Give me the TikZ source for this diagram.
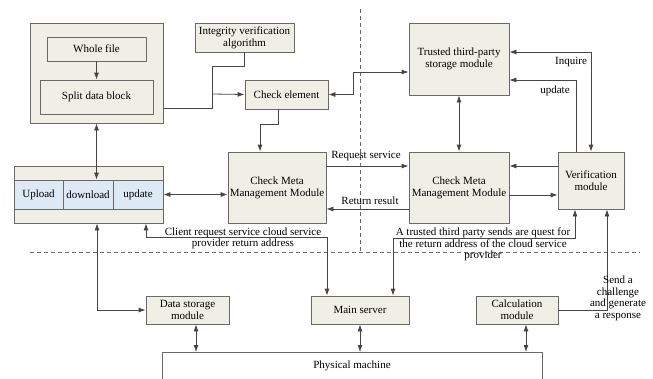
\documentclass[tikz,border=0pt]{standalone}
\usepackage{fontspec}
\setmainfont{Liberation Serif}
\usetikzlibrary{arrows.meta}
\definecolor{boxfill}{RGB}{240,239,230}
\definecolor{cellfill}{RGB}{221,233,245}
\definecolor{boxline}{RGB}{105,105,105}
\definecolor{wire}{RGB}{70,70,70}
\begin{document}
\begin{tikzpicture}[x=1pt,y=-1pt,
  font=\fontsize{11}{12}\selectfont,
  box/.style={draw=boxline,fill=boxfill,line width=0.8pt,align=center,inner sep=1pt},
  cell/.style={draw=boxline,fill=cellfill,line width=0.8pt,align=center,inner sep=1pt,minimum width=50pt,minimum height=29pt},
  arr/.style={draw=wire,line width=0.8pt,-{Latex[length=7pt,width=5pt]}},
  darr/.style={draw=wire,line width=0.8pt,{Latex[length=7pt,width=5pt]}-{Latex[length=7pt,width=5pt]}},
  wireline/.style={draw=wire,line width=0.8pt},
  sep/.style={draw=boxline,line width=0.7pt,dash pattern=on 4pt off 3pt},
  lbl/.style={align=center,inner sep=0pt,font=\fontsize{11}{11.5}\selectfont}]
\useasboundingbox (0,0) rectangle (653,378);
% separators
\draw[sep] (30,252) -- (640,252);
\draw[sep] (360,9) -- (360,252);
% client side
\node[box,minimum width=133pt,minimum height=100pt] (client) at (96.5,73) {};
\node[box,minimum width=99pt,minimum height=24pt] (whole) at (96.5,49) {Whole file};
\node[box,minimum width=113pt,minimum height=34pt] (split) at (96.5,97) {Split data block};
\node[box,minimum width=149pt,minimum height=57pt] (ops) at (88.5,194.5) {};
\node[cell,minimum width=49pt] (upload) at (38.5,194.5) {Upload};
\node[cell] (download) at (88,194.5) {download};
\node[cell] (update) at (138,194.5) {update};
\node[box,minimum width=99pt,minimum height=29pt] (integ) at (244.5,37.5) {Integrity verification\\algorithm};
\node[box,minimum width=83pt,minimum height=29pt] (checkel) at (286.5,94.5) {Check element};
\node[box,minimum width=98pt,minimum height=71pt] (metaL) at (277,187.5) {Check Meta\\Management Module};
% third party side
\node[box,minimum width=100pt,minimum height=72pt] (trusted) at (459,59) {Trusted third-party\\storage module};
\node[box,minimum width=100pt,minimum height=71pt] (metaR) at (459,187.5) {Check Meta\\Management Module};
\node[box,minimum width=66pt,minimum height=57pt] (verif) at (591,180.5) {Verification\\module};
% cloud side
\node[box,minimum width=83pt,minimum height=28pt] (datastore) at (187.5,310) {Data storage\\module};
\node[box,minimum width=98pt,minimum height=28pt] (mainsrv) at (360,310) {Main server};
\node[box,minimum width=82pt,minimum height=28pt] (calc) at (517,310) {Calculation\\module};
\node[draw=boxline,line width=0.8pt,minimum width=380pt,anchor=north,inner ysep=7pt,text height=9pt,text depth=30pt] (phys) at (352,352) {Physical machine};
% connectors
\coordinate (jn) at (212,94);
\draw[arr] (whole) -- (split);
\draw[wireline] (client.east |- 0,108) -| (jn);
\draw[wireline] (integ.south) -- ++(0,14) -| (jn);
\draw[arr] (jn) -- (checkel.west);
\draw[arr] ([xshift=-8.5pt]checkel.south) -- ++(0,15) -| ([xshift=-17pt]metaL.north);
\draw[darr] (client.south) -- (client.south |- download.north);
\draw[darr] (update.east) -- (update.east -| metaL.west);
\draw[darr] (checkel.east) -- ++(25,0) |- (trusted.west |- 0,72);
\draw[darr] (trusted) -- (metaR);
\draw[darr] (trusted.east |- 0,52) -| (verif.north);
\node[lbl] (inq) at (571,62) {Inquire};
\draw[arr] ([xshift=-15pt]verif.north) |- (trusted.east |- 0,80);
\node[lbl] (upd) at (555,91) {update};
\draw[arr] (metaL.east |- 0,166) -- (metaR.west |- 0,166);
\node[lbl] (req) at (366,156) {Request service};
\draw[arr] (metaR.west |- 0,209) -- (metaL.east |- 0,209);
\node[lbl] (ret) at (370,201) {Return result};
\draw[arr] (verif.west |- 0,166) -- (metaR.east |- 0,166);
\draw[arr] (metaR.east |- 0,195) -- (verif.west |- 0,195);
\draw[darr] ([xshift=57.5pt]ops.south) |- ([xshift=-33pt]mainsrv.north |- 0,237) -- ([xshift=-33pt]mainsrv.north);
\node[lbl] (clreq) at (243,238.5) {Client request service cloud service\\provider return address};
\draw[darr] ([xshift=33pt]mainsrv.north) |- ([xshift=-16pt]verif.south |- 0,238) -- ([xshift=-16pt]verif.south);
\node[lbl] (tpreq) at (483,244.5) {A trusted third party sends are quest for\\the return address of the cloud service\\provider};
\draw[darr] ([xshift=8.5pt]ops.south) |- (datastore.west);
\draw[darr] ([xshift=8.5pt]datastore.south) -- ([xshift=8.5pt]datastore.south |- phys.north);
\draw[darr] (mainsrv) -- (mainsrv.south |- phys.north);
\draw[darr] ([xshift=9pt]calc.south) -- ([xshift=9pt]calc.south |- phys.north);
\draw[arr] (calc.east) -| ([xshift=16pt]verif.south);
\node[lbl] (chal) at (618,298.5) {Send a\\challenge\\and generate\\a response};
\end{tikzpicture}
\end{document}
